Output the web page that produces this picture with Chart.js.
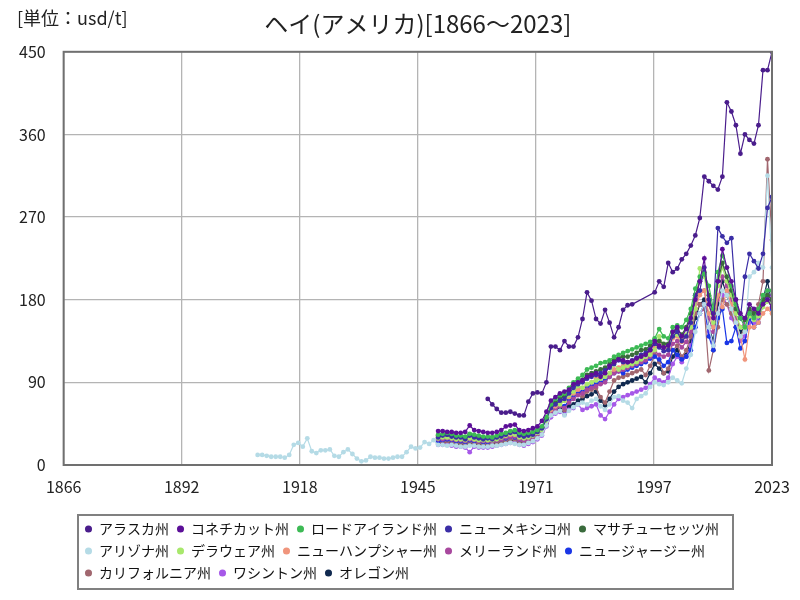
<!DOCTYPE html>
<html lang="ja">
<head>
<meta charset="UTF-8">
<title>ヘイ(アメリカ)</title>
<script src="https://cdn.jsdelivr.net/npm/chart.js"></script>
<style>
  html, body { margin: 0; padding: 0; background: #fff; }
</style>
</head>
<body>
<canvas id="hayChart" width="800" height="600"></canvas>
<script>
const fontFamily = '"Noto Sans CJK JP", "Noto Sans", sans-serif';
const titleText = 'ヘイ(アメリカ)[1866～2023]';
const unitText = '[単位：usd/t]';

// axes
const xMin = 1866, xMax = 2023;
const xTickLabels = ['1866', '1892', '1918', '1945', '1971', '1997', '2023'];
const yMax = 450, yStep = 90;

// series (legend order)
const stateNames = ['アラスカ州', 'コネチカット州', 'ロードアイランド州', 'ニューメキシコ州', 'マサチューセッツ州',
  'アリゾナ州', 'デラウェア州', 'ニューハンプシャー州', 'メリーランド州', 'ニュージャージー州',
  'カリフォルニア州', 'ワシントン州', 'オレゴン州'];
const stateColors = ['#4a1d8c', '#5c0f98', '#3dba55', '#3b2ea6', '#3a6b3c',
  '#b5dbe6', '#a8e86c', '#f0957c', '#a8489e', '#1a36e6',
  '#a1676f', '#a658e8', '#10294f'];
const startYears = [1960, 1949, 1949, 1949, 1949, 1909, 1949, 1949, 1949, 1949, 1949, 1949, 1949];

// usd/t, one value per year from the start year (null = no data)
const alaska = [72, 66, 61, 57, 57, 58, 56, 54, 54, 69,
  78, 79, 78, 90, 129, 129, 125, 135, 129, 129,
  139, 159, 188, 179, 159, 154, 169, 155, 139, 150,
  169, 174, 175, null, null, null, null, 188, 200, 194,
  220, 210, 214, 224, 230, 239, 250, 269, 314, 309,
  304, 300, 314, 395, 385, 370, 339, 360, 354, 350,
  370, 430, 430, 450];
const connecticut = [37, 37, 36, 36, 35, 35, 36, 43, 38, 37,
  36, 35, 35, 36, 38, 42, 43, 44, 38, 37,
  38, 40, 42, 48, 58, 70, 74, 78, 80, 82,
  88, 90, 92, 96, 98, 100, 96, 100, 108, 112,
  115, 114, 112, 113, 116, 118, 120, 125, 135, 130,
  128, 130, 145, 150, 140, 148, 160, 180, 200, 225,
  175, 160, 200, 235, 215, 200, 180, 165, 160, 175,
  170, 165, 175, 180, 172];
const rhodeIsland = [33, 34, 35, 34, 32, 32, 31, 34, 33, 32,
  31, 31, 30, 32, 34, 35, 37, 38, 35, 34,
  35, 36, 38, 42, 52, 66, 72, 76, 78, 84,
  90, 94, 98, 104, 106, 108, 111, 112, 114, 118,
  120, 122, 124, 126, 128, 130, 132, 134, 138, 148,
  140, 138, 150, 152, 150, 158, 170, 192, 205, 208,
  195, 170, 210, 228, 215, 195, 175, 160, 150, 165,
  160, 170, 185, 190, 190];
const newMexico = [30, 32, 33, 31, 30, 30, 28, 32, 30, 29,
  28, 29, 28, 30, 31, 33, 35, 36, 32, 31,
  32, 33, 36, 40, 50, 62, 66, 70, 72, 78,
  84, 88, 90, 94, 96, 98, 100, 103, 106, 110,
  114, 112, 112, 114, 117, 120, 122, 126, 132, 128,
  124, 125, 140, 145, 135, 140, 155, 185, 190, 215,
  180, 165, 258, 249, 242, 247, 180, 160, 205, 230,
  222, 214, 230, 280, 292];
const massachusetts = [32, 33, 33, 32, 31, 31, 30, 33, 32, 31,
  30, 30, 30, 31, 33, 34, 36, 37, 34, 33,
  34, 35, 37, 41, 50, 64, 68, 72, 75, 80,
  86, 90, 93, 98, 100, 102, 104, 106, 110, 114,
  117, 118, 118, 120, 122, 125, 126, 130, 135, 135,
  132, 132, 145, 148, 142, 150, 165, 185, 200, 210,
  185, 165, 200, 220, 205, 190, 170, 160, 158, 170,
  165, 168, 180, 185, 180];
const arizona = [11, 11, 10, 9, 9, 9, 8, 11, 22, 24,
  20, 29, 15, 13, 16, 16, 17, 10, 9, 14,
  17, 12, 7, 4, 5, 9, 8, 8, 7, 7,
  8, 9, 9, 14, 20, 18, 19, 25, 23, 27,
  22, 22, 21, 22, 21, 20, 20, 21, 21, 20,
  20, 20, 21, 21, 22, 23, 24, 23, 22, 22,
  24, 26, 29, 33, 43, 54, 57, 59, 54, 59,
  63, 66, 68, 66, 70, 72, 64, 60, 66, 74,
  75, 70, 68, 62, 72, 75, 78, 85, 90, 88,
  87, 90, 95, 92, 89, 105, 120, 145, 165, 175,
  150, 130, 165, 190, 185, 170, 155, 140, 145, 205,
  210, 220, 215, 315, 215];
const delaware = [29, 30, 30, 29, 28, 28, 27, 29, 28, 27,
  27, 27, 27, 28, 30, 32, 34, 33, 30, 29,
  30, 32, 35, 38, 48, 62, 68, 66, 70, 76,
  80, 86, 84, 88, 90, 92, 94, 96, 100, 110,
  104, 106, 108, 110, 112, 115, 118, 120, 125, 140,
  130, 128, 140, 142, 136, 142, 150, 170, 214, 205,
  175, 155, 195, 215, 200, 185, 165, 150, 148, 162,
  158, 162, 172, 178, 175];
const newHampshire = [31, 31, 32, 31, 30, 30, 29, 31, 30, 29,
  29, 29, 29, 30, 31, 32, 33, 34, 31, 30,
  31, 33, 35, 39, 48, 60, 64, 68, 70, 74,
  78, 82, 84, 88, 90, 94, 96, 98, 100, 104,
  106, 108, 110, 112, 114, 116, 118, 122, 128, 132,
  128, 126, 138, 140, 134, 140, 150, 170, 185, 190,
  165, 150, 185, 172, 190, 175, 155, 140, 115, 150,
  150, 155, 165, 170, 165];
const maryland = [28, 28, 29, 28, 27, 27, 26, 28, 27, 26,
  26, 26, 26, 27, 28, 30, 31, 31, 28, 27,
  28, 30, 32, 36, 46, 56, 60, 64, 62, 68,
  72, 76, 78, 82, 84, 86, 88, 90, 96, 100,
  102, 104, 106, 108, 110, 112, 114, 118, 124, 120,
  118, 120, 132, 135, 128, 134, 145, 175, 190, 190,
  160, 145, 180, 205, 195, 180, 160, 150, 155, 165,
  160, 165, 180, 185, 180];
const newJersey = [26, 27, 28, 27, 26, 26, 25, 27, 26, 26,
  25, 25, 26, 27, 28, 29, 31, 30, 28, 27,
  29, 31, 33, 38, 48, 58, 62, 66, 64, 70,
  74, 78, 80, 84, 86, 88, 90, 92, 96, 100,
  102, 100, 104, 106, 108, 110, 112, 116, 118, 115,
  108, 112, 125, 120, 115, 118, 125, 150, 165, 175,
  140, 125, 160, 170, 133, 135, 150, 127, 135, 160,
  150, 155, 175, 185, 170];
const california = [25, 25, 26, 25, 24, 24, 23, 25, 24, 24,
  23, 23, 24, 25, 26, 27, 28, 28, 26, 25,
  27, 29, 32, 37, 50, 62, 66, 68, 60, 72,
  78, 84, 75, 80, 82, 84, 74, 68, 80, 92,
  95, 96, 98, 100, 102, 104, 98, 108, 120, 112,
  100, 105, 125, 130, 118, 125, 140, 165, 175, 170,
  103, 125, 150, 180, 175, 165, 150, 140, 150, 160,
  165, 175, 200, 333, 245];
const washington = [22, 22, 22, 21, 20, 20, 19, 14, 20, 19,
  19, 19, 20, 21, 22, 23, 24, 24, 22, 21,
  23, 25, 28, 32, 42, 52, 56, 58, 55, 60,
  62, 66, 60, 62, 64, 66, 54, 50, 58, 66,
  72, 74, 76, 78, 80, 82, 84, 88, 95, 92,
  90, 95, 110, 118, 112, 118, 130, 150, 165, 170,
  145, 130, 165, 185, 175, 160, 150, 135, 140, 155,
  155, 160, 175, 190, 180];
const oregon = [24, 24, 25, 24, 23, 23, 22, 24, 23, 23,
  22, 22, 23, 24, 25, 26, 27, 27, 25, 24,
  26, 28, 31, 35, 45, 56, 60, 62, 56, 64,
  66, 70, 72, 75, 77, 80, 70, 65, 72, 80,
  85, 88, 90, 92, 94, 96, 90, 100, 110, 105,
  100, 102, 118, 125, 115, 120, 135, 160, 175, 180,
  150, 135, 175, 200, 185, 170, 160, 145, 150, 165,
  160, 165, 180, 200, 175];

const seriesValues = [alaska, connecticut, rhodeIsland, newMexico, massachusetts,
  arizona, delaware, newHampshire, maryland, newJersey, california, washington, oregon];

const datasets = stateNames.map((name, i) => ({
  label: name,
  data: seriesValues[i].map((v, k) => ({ x: startYears[i] + k, y: v })),
  borderColor: stateColors[i],
  backgroundColor: stateColors[i],
  pointBackgroundColor: stateColors[i],
  pointBorderWidth: 0,
  pointRadius: 2.4,
  borderWidth: 1.2,
  spanGaps: true
}));

// frame round the plot, box round the legend, unit label
const framePlugin = {
  id: 'frame',
  afterLayout(chart) {
    const lg = chart.legend;
    const shift = 77 - lg.left;
    lg.left += shift;
    lg.right += shift;
  },
  afterDraw(chart) {
    const { ctx, chartArea: a, legend: lg } = chart;
    ctx.save();
    ctx.strokeStyle = '#707070';
    ctx.lineWidth = 2;
    ctx.strokeRect(a.left, a.top, a.right - a.left, a.bottom - a.top);
    ctx.strokeStyle = '#808080';
    ctx.lineWidth = 2;
    ctx.strokeRect(lg.left + 1, lg.top + 1, 655, lg.height - 2);
    ctx.fillStyle = '#222';
    ctx.font = '18px ' + fontFamily;
    ctx.textBaseline = 'middle';
    ctx.textAlign = 'left';
    ctx.fillText(unitText, 17, 18);
    ctx.restore();
  }
};

const tickFont = { family: fontFamily, size: 16 };

new Chart(document.getElementById('hayChart'), {
  type: 'line',
  data: { datasets },
  options: {
    responsive: false,
    animation: false,
    devicePixelRatio: 1,
    layout: { padding: { left: 1, right: 28, top: 0, bottom: 10 } },
    elements: { line: { tension: 0 } },
    scales: {
      x: {
        type: 'linear',
        min: xMin,
        max: xMax,
        afterBuildTicks(axis) {
          const step = (xMax - xMin) / (xTickLabels.length - 1);
          axis.ticks = xTickLabels.map((_, k) => ({ value: xMin + k * step }));
        },
        afterFit(axis) { axis.height = 49; },
        ticks: {
          autoSkip: false,
          maxRotation: 0,
          padding: 10,
          color: '#222',
          font: { family: fontFamily, size: 16, lineHeight: 1.5 },
          callback: (v, idx) => xTickLabels[idx]
        },
        grid: { color: '#b4b4b4', lineWidth: 1.3, drawTicks: false },
        border: { display: false }
      },
      y: {
        min: 0,
        max: yMax,
        ticks: { stepSize: yStep, padding: 18, color: '#222', font: tickFont },
        grid: { color: '#b4b4b4', lineWidth: 1.3, drawTicks: false },
        border: { display: false }
      }
    },
    plugins: {
      title: {
        display: true,
        text: titleText,
        fullSize: false,
        color: '#222',
        font: { family: fontFamily, size: 24, weight: 'normal' },
        padding: { top: 9, bottom: 14 }
      },
      legend: {
        position: 'bottom',
        align: 'start',
        fullSize: false,
        labels: {
          usePointStyle: true,
          pointStyle: 'circle',
          boxWidth: 7,
          boxHeight: 5,
          padding: 8,
          color: '#111',
          font: { family: fontFamily, size: 14 }
        }
      },
      tooltip: { enabled: false }
    }
  },
  plugins: [framePlugin]
});
</script>
</body>
</html>
